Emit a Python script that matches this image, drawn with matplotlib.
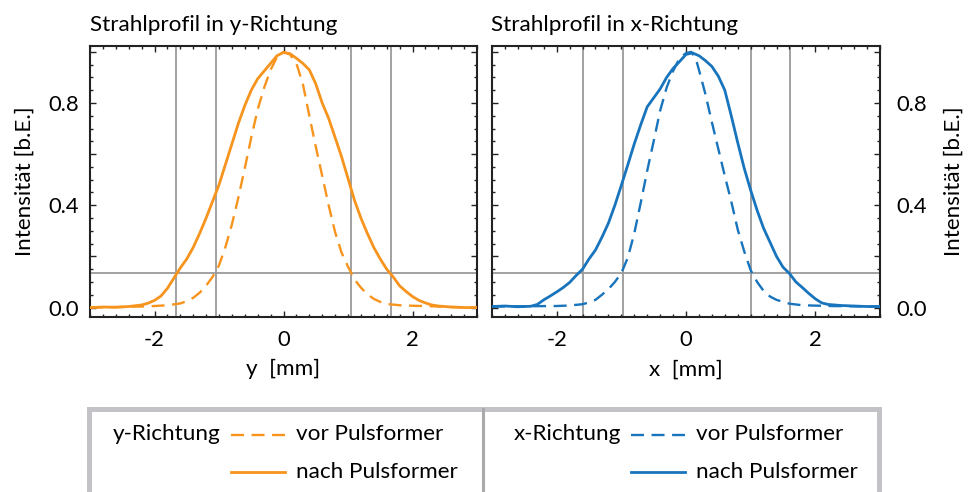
import matplotlib
matplotlib.use("Agg")
import matplotlib.pyplot as plt
from matplotlib.ticker import MultipleLocator, FuncFormatter
from matplotlib.lines import Line2D
from matplotlib.patches import Rectangle

plt.rcParams['font.family'] = ['Lato', 'DejaVu Sans']
plt.rcParams['axes.unicode_minus'] = False

# ---------------- data: beam profiles (normalised intensity) ----------------
# y direction, after the pulse shaper
y_nach_pos = [-3.0, -2.8, -2.6, -2.4, -2.2, -2.1, -2.0, -1.9, -1.8, -1.7, -1.6, -1.5,
              -1.4, -1.3, -1.2, -1.1, -1.0, -0.9, -0.8, -0.7, -0.6, -0.5, -0.4, -0.3,
              -0.2, -0.1, 0.0, 0.1, 0.2, 0.3, 0.4, 0.5, 0.6, 0.7, 0.8, 0.9, 1.0, 1.1,
              1.2, 1.3, 1.4, 1.5, 1.6, 1.7, 1.8, 1.9, 2.0, 2.1, 2.2, 2.3, 2.4, 2.6,
              2.8, 3.0]
y_nach_val = [0.0, 0.002, 0.001, 0.004, 0.010, 0.017, 0.028, 0.045, 0.075, 0.115, 0.155,
              0.19, 0.235, 0.29, 0.35, 0.415, 0.48, 0.56, 0.64, 0.72, 0.79, 0.85, 0.895,
              0.925, 0.955, 0.985, 0.998, 0.993, 0.975, 0.955, 0.93, 0.875, 0.80, 0.74,
              0.665, 0.59, 0.505, 0.42, 0.35, 0.29, 0.235, 0.19, 0.15, 0.12, 0.085,
              0.063, 0.043, 0.028, 0.018, 0.010, 0.006, 0.002, 0.0, 0.0]

# y direction, before the pulse shaper
y_vor_pos = [-3.0, -2.6, -2.2, -2.0, -1.8, -1.6, -1.5, -1.4, -1.3, -1.2, -1.1, -1.0,
             -0.9, -0.8, -0.7, -0.6, -0.5, -0.4, -0.3, -0.2, -0.1, 0.0, 0.1, 0.2, 0.3,
             0.4, 0.5, 0.6, 0.7, 0.8, 0.9, 1.0, 1.1, 1.2, 1.3, 1.4, 1.5, 1.6, 1.8,
             2.0, 2.3, 2.6, 3.0]
y_vor_val = [0.0, 0.002, 0.004, 0.006, 0.009, 0.016, 0.025, 0.038, 0.058, 0.085, 0.12,
             0.165, 0.237, 0.325, 0.43, 0.545, 0.665, 0.775, 0.86, 0.93, 0.98, 1.0,
             0.99, 0.955, 0.875, 0.75, 0.63, 0.515, 0.40, 0.295, 0.215, 0.16, 0.11,
             0.078, 0.052, 0.034, 0.022, 0.014, 0.009, 0.007, 0.005, 0.002, 0.0]

# x direction, after the pulse shaper
x_nach_pos = [-3.0, -2.8, -2.6, -2.4, -2.3, -2.2, -2.1, -2.0, -1.9, -1.8, -1.7, -1.6,
              -1.5, -1.4, -1.3, -1.2, -1.1, -1.0, -0.9, -0.8, -0.7, -0.6, -0.5, -0.4,
              -0.3, -0.2, -0.1, 0.0, 0.1, 0.2, 0.3, 0.4, 0.5, 0.6, 0.7, 0.8, 0.9, 1.0,
              1.1, 1.2, 1.3, 1.4, 1.5, 1.6, 1.7, 1.8, 1.9, 2.0, 2.1, 2.2, 2.4, 2.6,
              2.8, 3.0]
x_nach_val = [0.004, 0.006, 0.003, 0.005, 0.012, 0.03, 0.045, 0.061, 0.078, 0.098, 0.125,
              0.15, 0.19, 0.225, 0.275, 0.33, 0.40, 0.478, 0.558, 0.64, 0.715, 0.785,
              0.82, 0.855, 0.90, 0.935, 0.962, 0.99, 0.996, 0.985, 0.966, 0.943, 0.905,
              0.85, 0.75, 0.645, 0.545, 0.459, 0.38, 0.31, 0.255, 0.20, 0.158, 0.133,
              0.10, 0.078, 0.055, 0.034, 0.018, 0.012, 0.008, 0.006, 0.004, 0.004]

# x direction, before the pulse shaper
x_vor_pos = [-3.0, -2.5, -2.0, -1.8, -1.6, -1.5, -1.4, -1.3, -1.2, -1.1, -1.0, -0.9,
             -0.8, -0.7, -0.6, -0.5, -0.4, -0.3, -0.2, -0.1, 0.0, 0.08, 0.15, 0.2, 0.3,
             0.4, 0.5, 0.6, 0.7, 0.8, 0.9, 1.0, 1.1, 1.2, 1.3, 1.4, 1.6, 1.8, 2.2,
             2.6, 3.0]
x_vor_val = [0.004, 0.005, 0.006, 0.008, 0.013, 0.02, 0.03, 0.05, 0.072, 0.10, 0.135,
             0.195, 0.29, 0.41, 0.535, 0.65, 0.77, 0.86, 0.925, 0.975, 0.995, 1.0,
             0.975, 0.93, 0.835, 0.725, 0.62, 0.515, 0.415, 0.305, 0.22, 0.146, 0.10,
             0.065, 0.043, 0.030, 0.015, 0.009, 0.006, 0.005, 0.004]

# beam-width markers (1/e^2 level and its crossing positions)
level_1e2 = 0.135
y_width_marks = [-1.66, -1.04, 1.04, 1.66]
x_width_marks = [-1.60, -0.98, 1.00, 1.61]

x_ticks = [-2, 0, 2]
i_ticks = [0.0, 0.4, 0.8]

ORANGE = '#F7941D'
BLUE = '#1874BC'
GRAY = '#9a9a9a'
FS = 16.2
TFS = 15.8

W, H = 968, 492
fig = plt.figure(figsize=(W / 100, H / 100), dpi=100)


def fx(px):
    return px / W


def fy(py):
    return 1 - py / H


ax1 = fig.add_axes([fx(90), fy(317), (477 - 90) / W, (317 - 46) / H])
ax2 = fig.add_axes([fx(492), fy(317), (880 - 492) / W, (317 - 46) / H])

fmt_i = FuncFormatter(lambda v, p: f"{v:.1f}" if any(abs(v - t) < 1e-6 for t in i_ticks) else "")

for ax, pos_n, val_n, pos_v, val_v, col, marks in (
        (ax1, y_nach_pos, y_nach_val, y_vor_pos, y_vor_val, ORANGE, y_width_marks),
        (ax2, x_nach_pos, x_nach_val, x_vor_pos, x_vor_val, BLUE, x_width_marks)):
    for m in marks:
        ax.axvline(m, color=GRAY, lw=1.3, zorder=1)
    ax.axhline(level_1e2, color=GRAY, lw=1.3, zorder=1)
    ax.plot(pos_v, val_v, color=col, lw=1.7, ls=(0, (5.5, 3.2)), zorder=3)
    ax.plot(pos_n, val_n, color=col, lw=2.0, zorder=3)
    ax.set_xlim(-3, 3)
    ax.set_ylim(-0.037, 1.023)
    ax.set_xticks(x_ticks)
    ax.xaxis.set_minor_locator(MultipleLocator(0.2))
    ax.yaxis.set_major_locator(MultipleLocator(0.2))
    ax.yaxis.set_minor_locator(MultipleLocator(0.05))
    ax.yaxis.set_major_formatter(fmt_i)
    ax.tick_params(which='both', direction='in', top=True, bottom=True,
                   left=True, right=True, width=1.0, color='#222222',
                   labelsize=TFS)
    ax.tick_params(which='major', length=4)
    ax.tick_params(which='minor', length=2.5)
    ax.tick_params(axis='x', pad=9)
    for s in ax.spines.values():
        s.set_linewidth(1.5)
        s.set_color('#222222')

ax1.tick_params(axis='y', pad=8)
ax2.tick_params(axis='y', labelleft=False, labelright=True, pad=12)

ax1.set_xlabel('y  [mm]', fontsize=FS, labelpad=7)
ax2.set_xlabel('x  [mm]', fontsize=FS, labelpad=7)
ax1.set_ylabel('Intensität [b.E.]', fontsize=FS, labelpad=10)
ax2.yaxis.set_label_position('right')
ax2.set_ylabel('Intensität [b.E.]', fontsize=FS, labelpad=12, rotation=90)

fig.text(fx(90), fy(31), 'Strahlprofil in y-Richtung', fontsize=FS, va='baseline', ha='left')
fig.text(fx(491), fy(31), 'Strahlprofil in x-Richtung', fontsize=FS, va='baseline', ha='left')

# ---------------- legend box ----------------
box = Rectangle((fx(89), fy(520)), (878.5 - 89) / W, (520 - 409) / H,
                transform=fig.transFigure, facecolor='white', edgecolor='#c3c3c7',
                linewidth=3.6, clip_on=False)
fig.add_artist(box)
fig.add_artist(Line2D([fx(483), fx(483)], [fy(409), fy(500)], transform=fig.transFigure,
                      color='#aaaaaa', lw=2.2))

row1, row2 = 434.5, 471.5
for dx, name, col in ((0, 'y-Richtung', ORANGE), (400, 'x-Richtung', BLUE)):
    fig.text(fx(221 + dx), fy(row1), name, fontsize=FS, ha='right', va='center')
    fig.add_artist(Line2D([fx(231 + dx), fx(285 + dx)], [fy(row1), fy(row1)],
                          transform=fig.transFigure, color=col, lw=1.7, ls=(0, (5.5, 3.2))))
    fig.add_artist(Line2D([fx(231 + dx), fx(285 + dx)], [fy(row2), fy(row2)],
                          transform=fig.transFigure, color=col, lw=2.0))
    fig.text(fx(296 + dx), fy(row1), 'vor Pulsformer', fontsize=FS, ha='left', va='center')
    fig.text(fx(296 + dx), fy(row2), 'nach Pulsformer', fontsize=FS, ha='left', va='center')

fig.savefig('out.png', dpi=100)
